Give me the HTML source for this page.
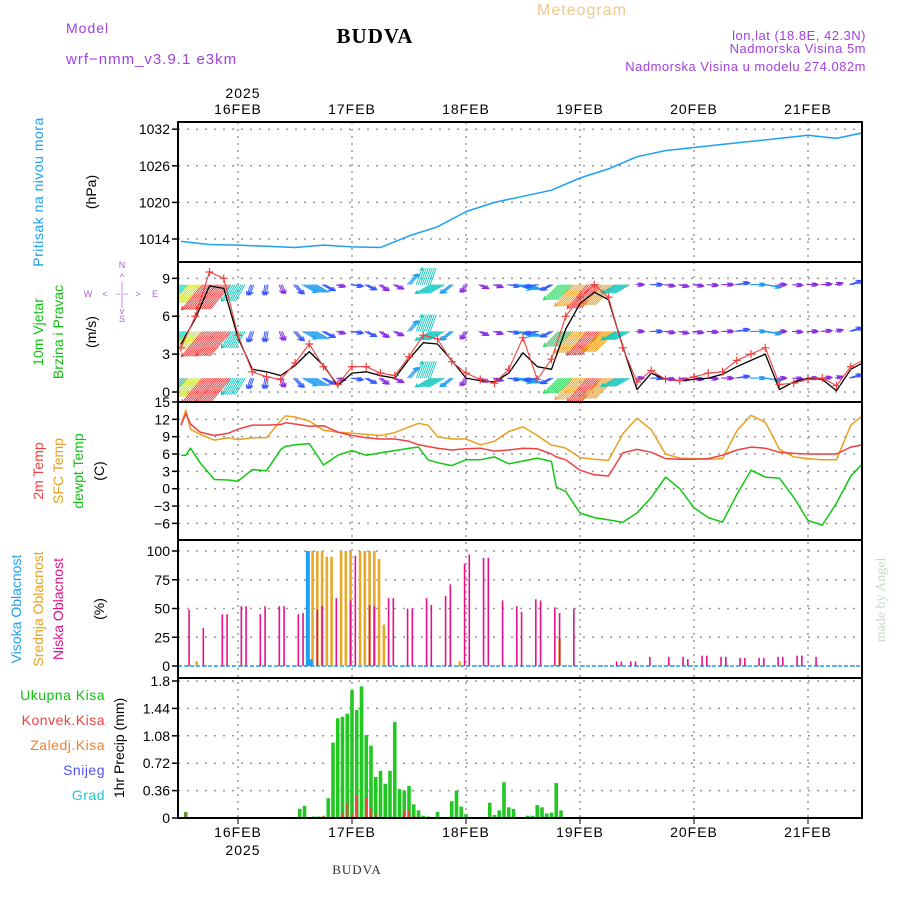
<!DOCTYPE html>
<html><head><meta charset="utf-8">
<style>
html,body{margin:0;padding:0;background:#fff;}
svg{display:block;font-family:"Liberation Sans",sans-serif;}
</style></head>
<body>
<svg id="chart" width="900" height="900" viewBox="0 0 900 900" xmlns="http://www.w3.org/2000/svg">
<rect x="0" y="0" width="900" height="900" fill="#fff"/>
<text x="66" y="33" fill="#a040e0" font-size="14" letter-spacing="1">Model</text>
<text x="66" y="64" fill="#a040e0" font-size="15" letter-spacing="1">wrf−nmm_v3.9.1 e3km</text>
<text x="375" y="43" fill="#000" font-size="21" font-weight="bold" font-family="Liberation Serif,serif" text-anchor="middle" letter-spacing="1">BUDVA</text>
<text x="582" y="15" fill="#f0c890" font-size="16" text-anchor="middle" letter-spacing="1">Meteogram</text>
<text x="866" y="40" fill="#a040e0" font-size="13" text-anchor="end" letter-spacing="0.5">lon,lat (18.8E, 42.3N)</text>
<text x="866" y="53" fill="#a040e0" font-size="13" text-anchor="end" letter-spacing="0.5">Nadmorska Visina 5m</text>
<text x="866" y="71" fill="#a040e0" font-size="13" text-anchor="end" letter-spacing="0.5">Nadmorska Visina u modelu 274.082m</text>
<text x="243" y="98" font-size="14" text-anchor="middle" letter-spacing="1">2025</text>
<text x="243" y="855" font-size="14" text-anchor="middle" letter-spacing="1">2025</text>
<text x="357" y="874" font-size="13" text-anchor="middle" font-family="Liberation Serif,serif" letter-spacing="1" fill="#333">BUDVA</text>
<text transform="translate(885,600) rotate(-90)" font-size="14" fill="#ccd8cc" text-anchor="middle" font-family="Liberation Serif,serif">made by Angel</text>
<text transform="translate(43,192) rotate(-90)" fill="#1ea0f0" font-size="14" text-anchor="middle" letter-spacing="0.5">Pritisak na nivou mora</text>
<text transform="translate(96,192) rotate(-90)" fill="#000" font-size="14" text-anchor="middle">(hPa)</text>
<text transform="translate(43,332) rotate(-90)" fill="#10c010" font-size="14" text-anchor="middle">10m Vjetar</text>
<text transform="translate(63,332) rotate(-90)" fill="#10c010" font-size="14" text-anchor="middle">Brzina i Pravac</text>
<text transform="translate(96,332) rotate(-90)" fill="#000" font-size="14" text-anchor="middle">(m/s)</text>
<g fill="#b060e0" font-size="9" text-anchor="middle">
<text x="122" y="268">N</text><text x="122" y="280">^</text><text x="122" y="288">|</text>
<text x="88" y="297">W</text><text x="105" y="297">&lt;</text><text x="122" y="297">−|−</text><text x="138" y="297">&gt;</text><text x="155" y="297">E</text>
<text x="122" y="306">|</text><text x="122" y="314">v</text><text x="122" y="322">S</text>
</g>
<text transform="translate(43,471) rotate(-90)" fill="#f04040" font-size="14" text-anchor="middle">2m Temp</text>
<text transform="translate(63,471) rotate(-90)" fill="#e8a020" font-size="14" text-anchor="middle">SFC Temp</text>
<text transform="translate(83,471) rotate(-90)" fill="#10c010" font-size="14" text-anchor="middle">dewpt Temp</text>
<text transform="translate(104,471) rotate(-90)" fill="#000" font-size="14" text-anchor="middle">(C)</text>
<text transform="translate(21,609) rotate(-90)" fill="#1ea0f0" font-size="14" text-anchor="middle">Visoka Oblacnost</text>
<text transform="translate(43,609) rotate(-90)" fill="#e8a020" font-size="14" text-anchor="middle">Srednja Oblacnost</text>
<text transform="translate(63,609) rotate(-90)" fill="#e0108a" font-size="14" text-anchor="middle">Niska Oblacnost</text>
<text transform="translate(104,609) rotate(-90)" fill="#000" font-size="14" text-anchor="middle">(%)</text>
<text x="105" y="700" fill="#10c010" font-size="14" text-anchor="end" letter-spacing="0.5">Ukupna Kisa</text>
<text x="105" y="725" fill="#f04040" font-size="14" text-anchor="end" letter-spacing="0.5">Konvek.Kisa</text>
<text x="105" y="750" fill="#f08030" font-size="14" text-anchor="end" letter-spacing="0.5">Zaledj.Kisa</text>
<text x="105" y="775" fill="#5050f0" font-size="14" text-anchor="end" letter-spacing="0.5">Snijeg</text>
<text x="105" y="800" fill="#20c8c8" font-size="14" text-anchor="end" letter-spacing="0.5">Grad</text>
<text transform="translate(124,748) rotate(-90)" fill="#000" font-size="14" text-anchor="middle">1hr Precip (mm)</text>
<g id="plot"></g>
</svg>
<script>
// ---- data ----
var dayLabels = ["16FEB","17FEB","18FEB","19FEB","20FEB","21FEB"];
var pHours = [-12,-6,0,6,12,18,24,30,36,42,48,54,60,66,72,78,84,90,96,102,108,114,120,126,132];
var pValues = [1013.6,1013.1,1013,1012.8,1012.6,1013,1012.7,1012.6,1014.5,1016,1018.5,1020,1021,1022,1024,1025.5,1027.5,1028.5,1029,1029.5,1030,1030.5,1031,1030.5,1031.5];
var pTicks = [1014,1020,1026,1032];
var wHours = [-12,-9,-6,-3,0,3,6,9,12,15,18,21,24,27,30,33,36,39,42,45,48,51,54,57,60,63,66,69,72,75,78,81,84,87,90,93,96,99,102,105,108,111,114,117,120,123,126,129,132];
var wSpeed = [3.8,5.8,8.4,8.2,4.3,1.8,1.6,1.3,2.1,3.2,2.1,0.5,1.5,1.6,1.3,1.1,2.6,3.9,3.8,2.5,1.1,0.9,0.8,1.5,3.1,2.0,1.8,5.0,7.0,7.9,7.3,3.6,0.2,1.5,1.0,0.9,1.0,1.1,1.4,2.0,2.5,3.0,0.2,0.8,1.1,1.0,0.1,1.8,2.4];
var wGust = [3.5,6,9.5,9,4.5,1.6,1.2,1.0,2.3,3.8,2.0,0.6,2.0,2.0,1.5,1.3,2.8,4.5,4.2,2.4,1.5,1.0,0.7,1.8,4.3,1.0,2.6,6.0,7.5,8.5,7.5,3.5,0.8,1.7,1.0,0.9,1.2,1.5,1.6,2.5,3.0,3.5,0.6,0.7,1.0,1.1,0.5,2.0,2.6];
var wDir = [45,40,40,40,30,20,10,340,320,300,300,290,280,300,310,300,220,200,60,50,30,300,290,280,290,80,60,45,40,40,45,60,270,270,280,285,280,275,270,260,270,280,270,275,270,265,250,250,250];
var wLevels = [8.5,4.8,1.1];
var wTicks = [0,3,6,9];
var tHours = [-12,-11,-10,-8,-5,-2,0,3,6,9,10,12,15,18,21,24,27,30,33,36,38,40,42,45,48,51,54,57,60,63,66,67,69,72,75,78,81,84,87,90,93,96,99,102,105,108,111,114,117,120,123,126,129,132];
var t2m = [11.0,13,11.2,9.8,9.2,9.6,10.3,11,11,11.1,11.4,11.2,10.8,10.9,9.8,9.2,8.8,8.6,8.6,8.2,7.6,7.3,7.0,6.7,6.9,7.0,6.5,6.7,7.0,6.9,6.0,5.5,5.0,3.2,2.4,2.2,6.2,6.8,6.3,5.2,5.1,5.1,5.2,5.8,6.7,7.2,7.0,6.3,6.1,6.0,6.0,6.0,7.2,7.7];
var tSfc = [11,13.6,10.3,9.4,8.4,8.8,8.5,8.8,8.8,11.8,12.6,12.4,11.7,10.1,9.8,9.6,9.4,9.2,9.7,10.7,11.3,11.0,9.0,8.6,8.6,7.6,8.2,9.9,10.7,9.2,7.5,7.4,7.0,5.4,5.1,4.9,9.5,12.2,10.2,6.0,5.3,5.2,5.1,5.2,10.0,12.7,11.5,6.8,5.5,5.2,5.0,5.0,11.0,13.0];
var tDew = [5.8,5.8,7.0,4.5,1.6,1.5,1.3,3.3,3.1,6.8,7.3,7.6,7.8,4.1,5.8,6.6,5.8,6.2,6.6,7.0,7.2,5.0,4.5,4.0,5.0,5.0,5.5,4.3,4.8,5.3,4.7,0.3,-0.5,-4.2,-5.0,-5.4,-5.8,-4.2,-1.5,2.0,0.0,-3.3,-5.0,-5.8,-1.0,3.2,2.0,1.8,-1.5,-5.5,-6.3,-2.5,2.2,4.8];
var tTicks = [-6,-3,0,3,6,9,12,15];
var lowH = [-10.3,-7.3,-3.3,-2.3,0.7,1.7,4.7,5.7,8.7,9.7,12.7,13.7,16.7,17.7,20.7,23.7,24.7,27.7,28.7,31.7,32.7,35.7,36.7,39.7,40.7,43.7,44.7,47.7,48.7,51.7,52.7,55.7,58.7,59.7,62.7,63.7,66.7,67.7,70.7,79.7,80.7,82.7,83.7,86.7,90.7,93.7,94.7,97.7,98.7,101.7,102.7,105.7,106.7,109.7,110.7,113.7,114.7,117.7,118.7,121.7];
var lowV = [49,33,45,45,52,52,45,52,52,52,45,46,49,52,59,57,96,53,52,59,59,50,50,59,53,61,71,89,97,94,94,57,52,47,58,57,51,46,50,4,4,4,4,8,8,8,6,9,9,8,8,7,7,7,7,8,8,9,9,8];
var midH = [-8.7,15.7,16.7,17.7,18.7,19.7,21.7,22.7,23.7,25.7,26.7,27.7,28.7,29.7,30.7,46.7,67.7];
var midV = [4,100,100,100,95,95,100,100,100,100,100,100,100,93,36,4,24];
var highH = [14.7,15.3];
var highV = [100,6];
var cTicks = [0,25,50,75,100];
var rainH = [-11,13,14,16,17,18,19,20,21,22,23,24,25,26,27,28,29,30,31,32,33,34,35,36,37,38,39,40,42,45,46,47,48,53,54,55,56,57,58,61,62,63,64,65,66,67,68];
var rainV = [0.08,0.12,0.16,0.02,0.02,0.02,0.26,0.99,1.31,1.33,1.37,1.68,1.42,1.73,1.09,0.95,0.54,0.62,0.45,0.62,1.26,0.38,0.36,0.42,0.18,0.1,0.03,0.02,0.08,0.22,0.36,0.15,0.05,0.2,0.04,0.1,0.47,0.14,0.12,0.03,0.03,0.17,0.14,0.06,0.07,0.46,0.1];
var convH = [-11,18,22,23,24,25,27,28,29,35,36,37];
var convV = [0.07,0.03,0.05,0.2,0.05,0.3,0.27,0.14,0.05,0.1,0.1,0.03];
var rTicks = [0,0.36,0.72,1.08,1.44,1.8];

// ---- scales ----
var X0 = 178, X1 = 862;
function xs(h){ return 238 + h*4.75; }
function yP(v){ return 239 - (v-1014)*6.1; }
function yW(v){ return 392 - v*12.63; }
function yT(v){ return 488.7 - v*5.78; }
function yC(v){ return 666 - v*1.15; }
function yR(v){ return 818 - v*76.1; }
var panels = [[122,262,'pressure'],[262,402,'wind'],[402,540,'temperature'],[540,678,'cloud'],[678,818,'precip']];

var NS = "http://www.w3.org/2000/svg";
var plot = document.getElementById('plot');
function mk(tag, attrs, parent){
  var e = document.createElementNS(NS, tag);
  for (var k in attrs) e.setAttribute(k, attrs[k]);
  (parent || plot).appendChild(e);
  return e;
}
var clip = mk('clipPath', {id:'clipAll'});
mk('rect', {x:X0, y:122, width:X1-X0, height:696}, clip);
var clipW = mk('clipPath', {id:'clipWind'});
mk('rect', {x:X0, y:262, width:X1-X0, height:140}, clipW);

for (var d = 0; d < dayLabels.length; d++) {
  var gx = xs(d*24);
  var vl = mk('line', {x1:gx, x2:gx, y1:122, y2:818, stroke:'#999', 'stroke-width':1.5, 'stroke-dasharray':'2,5'});
  
  
  var t1 = mk('text', {x:gx, y:114, 'font-size':14, 'text-anchor':'middle', 'letter-spacing':1});
  t1.textContent = dayLabels[d];
  
  
  var t2 = mk('text', {x:gx, y:837, 'font-size':14, 'text-anchor':'middle', 'letter-spacing':1});
  t2.textContent = dayLabels[d];
  
  
  var tk = mk('line', {x1:gx, x2:gx, y1:818, y2:824, stroke:'#000', 'stroke-width':1});
  
  
}
function yTicks(ticks, fy, fmt, pname){
  for (var i = 0; i < ticks.length; i++) {
    var y = fy(ticks[i]);
    var g = mk('line', {x1:X0, x2:X1, y1:y, y2:y, stroke:'#999', 'stroke-width':1.5, 'stroke-dasharray':'2,7'});
    
    
    var tk = mk('line', {x1:X0-6, x2:X0, y1:y, y2:y, stroke:'#000', 'stroke-width':1.5});
    
    
    var tl = mk('text', {x:X0-8, y:y+5, 'font-size':14, 'text-anchor':'end'});
    tl.textContent = fmt(ticks[i]);
    
    
  }
}
function fmtT(v){ return v < 0 ? '−' + (-v) : String(v); }
yTicks(pTicks, yP, String, 'pressure');
yTicks(wTicks, yW, String, 'wind');
yTicks(tTicks, yT, fmtT, 'temperature');
yTicks(cTicks, yC, String, 'cloud');
yTicks(rTicks, yR, function(v){ return v===0 ? '0' : String(v); }, 'precip');

function line(hs, vs, fy, color, w, name){
  var pts = [];
  for (var i = 0; i < hs.length; i++) pts.push(xs(hs[i]).toFixed(1) + ',' + fy(vs[i]).toFixed(1));
  var p = mk('polyline', {points:pts.join(' '), fill:'none', stroke:color, 'stroke-width':w, 'clip-path':'url(#clipAll)', 'stroke-linejoin':'round'});
  
  
}
line(pHours, pValues, yP, '#1ea0f0', 1.5, 'pressure-line');

function wColor(s){
  if (s < 1.5) return '#8a2be2';
  if (s < 2.5) return '#3355ff';
  if (s < 3.5) return '#1e9cf0';
  if (s < 4.5) return '#10c8c0';
  if (s < 5.5) return '#30d060';
  if (s < 6.5) return '#c8e020';
  if (s < 7.5) return '#f0a020';
  return '#f03838';
}
var wg = mk('g', {'clip-path':'url(#clipWind)'});


for (var li = 0; li < wLevels.length; li++) {
  var by = yW(wLevels[li]);
  for (var i = 0; i < wHours.length; i++) {
    var s = wSpeed[i], to = (wDir[i] + 180) * Math.PI/180;
    var L = 5 + s*3.3;
    var offs = s > 3 ? [-7,-5,-3,-1,1,3,5,7] : [-1.6,0,1.6];
    for (var o = 0; o < offs.length; o++) {
      var bx = xs(wHours[i]) + offs[o];
      var ex = bx + Math.sin(to)*L, ey = by - Math.cos(to)*L;
      var a = mk('line', {x1:bx, y1:by, x2:ex, y2:ey, stroke:wColor(s), 'stroke-width':0.9}, wg);
      
      
      if (o === 0 || s <= 3) {
        var ang = Math.atan2(ey-by, ex-bx);
        var hx1 = ex - 4*Math.cos(ang-0.5), hy1 = ey - 4*Math.sin(ang-0.5);
        var hx2 = ex - 4*Math.cos(ang+0.5), hy2 = ey - 4*Math.sin(ang+0.5);
        var hd = mk('polyline', {points:hx1+','+hy1+' '+ex+','+ey+' '+hx2+','+hy2, fill:'none', stroke:wColor(s), 'stroke-width':1}, wg);
        
        
      }
    }
  }
}
line(wHours, wSpeed, yW, '#000', 1.3, 'wind-speed-line');
line(wHours, wGust, yW, '#f04040', 1.1, 'wind-gust-line');
for (var i = 0; i < wHours.length; i++) {
  var gx = xs(wHours[i]), gy = yW(wGust[i]);
  var c = mk('path', {d:'M'+(gx-4)+','+gy+'h8M'+gx+','+(gy-4)+'v8', stroke:'#f04040', 'stroke-width':1.2, 'clip-path':'url(#clipAll)'});
  
  
}

line(tHours, tSfc, yT, '#e8a020', 1.5, 'sfc-temp-line');
line(tHours, t2m, yT, '#f04040', 1.5, 'temp-2m-line');
line(tHours, tDew, yT, '#10c810', 1.5, 'dewpoint-line');

function bars(hs, vs, fy, color, w, name){
  var base = fy(0);
  for (var i = 0; i < hs.length; i++) {
    var y = fy(vs[i]);
    var r = mk('rect', {x:xs(hs[i]) - w/2, y:y, width:w, height:Math.max(0, base - y), fill:color});
    
    
  }
}
var cb = mk('line', {x1:X0, x2:X1, y1:yC(0), y2:yC(0), stroke:'#1ea0f0', 'stroke-width':1.5, 'stroke-dasharray':'4,2'});


bars(midH, midV, yC, '#e8a828', 2.6, 'mid-cloud-bar');
bars(highH, highV, yC, '#1ea0f0', 4, 'high-cloud-bar');
bars(lowH, lowV, yC, '#e8108a', 1.6, 'low-cloud-bar');

var pb = mk('line', {x1:X0, x2:X1, y1:818, y2:818, stroke:'#000', 'stroke-width':1.5, 'stroke-dasharray':'4,3'});


bars(rainH, rainV, yR, '#22c822', 3.6, 'total-rain-bar');
bars(convH, convV, yR, '#f04040', 2, 'convective-rain-bar');

for (var k = 0; k < panels.length; k++) {
  var fr = mk('rect', {x:X0, y:panels[k][0], width:X1-X0, height:panels[k][1]-panels[k][0], fill:'none', stroke:'#000', 'stroke-width':2});
  
  
}
</script>
</body></html>
